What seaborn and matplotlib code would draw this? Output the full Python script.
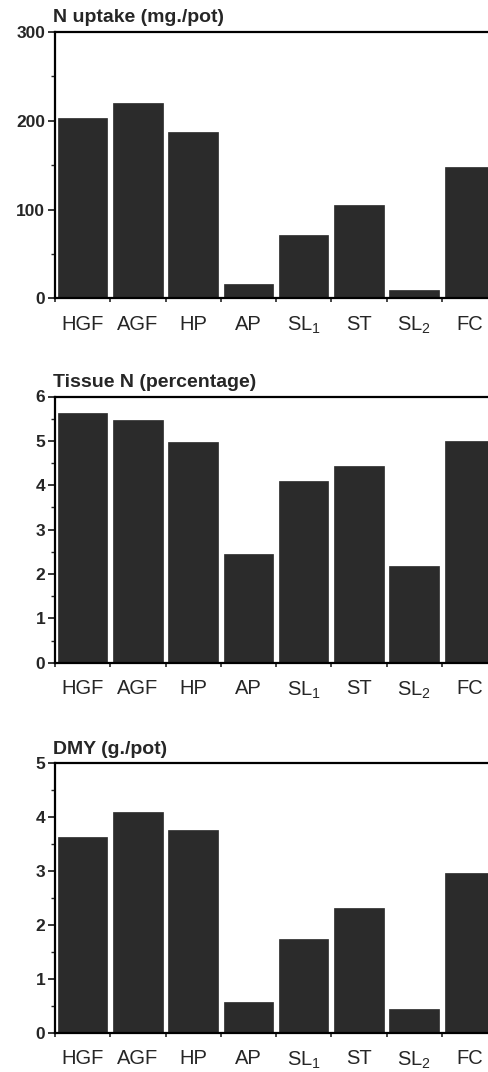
import matplotlib
matplotlib.use("Agg")
import matplotlib.pyplot as plt
import seaborn as sns
import pandas as pd
import numpy as np
from matplotlib.ticker import MultipleLocator, FixedLocator

sns.set_style("ticks")
plt.rcParams['font.family'] = ['Liberation Sans', 'DejaVu Sans']
plt.rcParams['mathtext.default'] = 'regular'

categories = ["HGF", "AGF", "HP", "AP", "SL$_1$", "ST", "SL$_2$", "FC"]
n_uptake = [203, 220, 187, 16, 71, 105, 9, 148]
tissue_n = [5.62, 5.47, 4.98, 2.46, 4.09, 4.44, 2.17, 5.0]
dmy = [3.64, 4.09, 3.77, 0.57, 1.73, 2.31, 0.44, 2.96]

titles = ["N uptake (mg./pot)", "Tissue N (percentage)", "DMY (g./pot)"]
ylims = [300, 6, 5]
majors = [100, 1, 1]
minors = [50, 0.5, 0.5]
series = [n_uptake, tissue_n, dmy]

W, H = 488, 1072
fig = plt.figure(figsize=(W / 100, H / 100), dpi=100)
# (top_px, bottom_px) of each panel
panels = [(32.0, 298.3), (396.5, 662.7), (763.3, 1032.7)]
left_px, width_px = 55.0, 442.0
bar_color = "#2b2b2b"

for (top, bot), title, ymax, mj, mn, vals in zip(panels, titles, ylims, majors, minors, series):
    ax = fig.add_axes([left_px / W, (H - bot) / H, width_px / W, (bot - top) / H])
    df = pd.DataFrame({"cat": categories, "val": vals})
    sns.barplot(data=df, x="cat", y="val", color=bar_color, saturation=1,
                width=0.9, ax=ax, edgecolor=bar_color, linewidth=0.5)
    ax.set_xlim(-0.5, 7.5)
    ax.set_ylim(0, ymax)
    ax.set_xlabel("")
    ax.set_ylabel("")
    for s in ["top", "left", "bottom", "right"]:
        ax.spines[s].set_visible(True)
        ax.spines[s].set_linewidth(1.6)
        ax.spines[s].set_color("black")
    ax.yaxis.set_major_locator(MultipleLocator(mj))
    ax.yaxis.set_minor_locator(MultipleLocator(mn))
    ax.tick_params(axis="y", which="major", direction="out", length=5, width=1.3,
                   labelsize=12.5, pad=2)
    ax.tick_params(axis="y", which="minor", direction="out", length=3, width=1.0)
    for lab in ax.get_yticklabels():
        lab.set_fontweight("bold")
    ax.xaxis.set_minor_locator(FixedLocator(np.arange(-0.5, 8.0, 1.0)))
    ax.tick_params(axis="x", which="major", length=0, labelsize=14.5, pad=12)
    ax.tick_params(axis="x", which="minor", direction="out", length=3, width=1.2)
    ax.set_title(title, loc="left", fontweight="bold", fontsize=14, pad=7, x=-0.005)

fig.savefig("out.png", dpi=100)
